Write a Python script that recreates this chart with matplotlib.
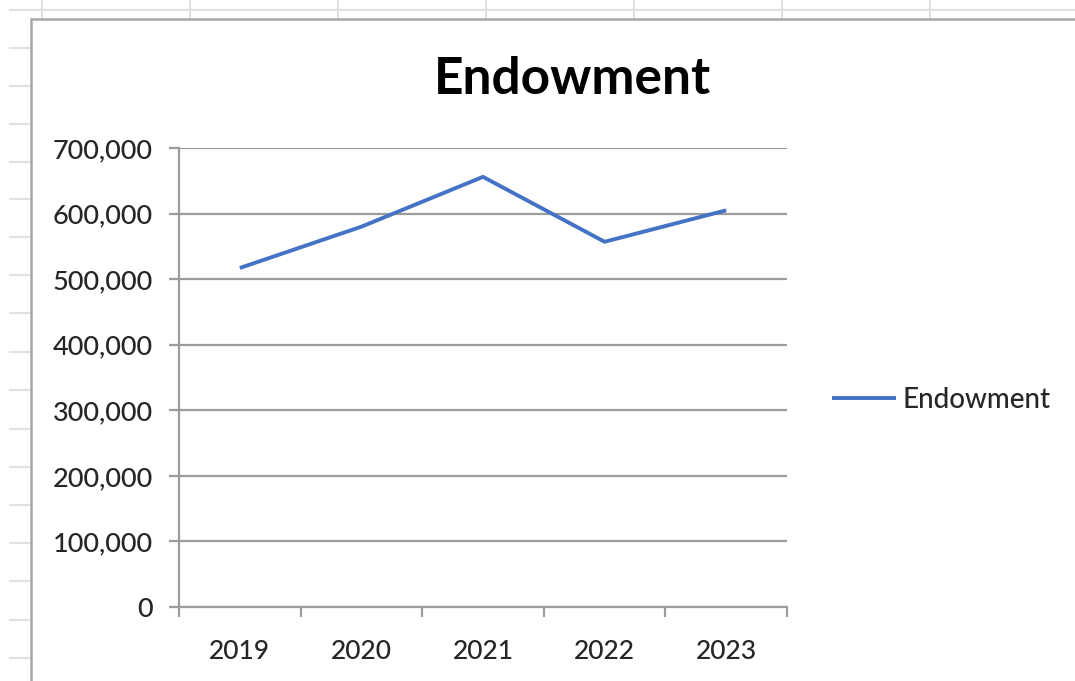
import matplotlib.pyplot as plt
from matplotlib.lines import Line2D
from matplotlib.patches import Rectangle
from matplotlib.ticker import FuncFormatter, FixedLocator

# datos del grafico
years = ['2019', '2020', '2021', '2022', '2023']
endowment = [517000, 580000, 656000, 557000, 605000]
y_ticks = [0, 100000, 200000, 300000, 400000, 500000, 600000, 700000]

W, H = 1075, 681
fig = plt.figure(figsize=(W / 100, H / 100), dpi=100)
fig.patch.set_facecolor('white')

# cuadricula de la hoja de calculo (fondo)
grid_c = '#e1e1e1'
fig.add_artist(Line2D([10 / W, 1], [1 - 10 / H, 1 - 10 / H], color=grid_c, lw=1.5, zorder=-3))
for gx in [42, 190, 338, 486, 634, 782, 930]:
    fig.add_artist(Line2D([gx / W, gx / W], [1, 1 - 19 / H], color=grid_c, lw=1.5, zorder=-3))
for gy in [48, 86, 124, 162, 199, 237, 275, 313, 352, 390, 429, 467, 505, 543, 581, 620, 658]:
    fig.add_artist(Line2D([10 / W, 31 / W], [1 - gy / H, 1 - gy / H], color=grid_c, lw=1.5, zorder=-3))

# area del grafico
fig.add_artist(Rectangle((31 / W, -19 / H), 1200 / W, 1.0, facecolor='white',
                         edgecolor='#a6a6a6', lw=1.8, zorder=-2))

ax = fig.add_axes([179 / W, (H - 607) / H, (787 - 179) / W, (607 - 148) / H])
ax.patch.set_alpha(0)
x = [i + 0.5 for i in range(len(years))]
ax.plot(x, endowment, color='#4472C4', lw=2.8, label='Endowment', solid_capstyle='butt')

ax.set_xlim(0, len(years))
ax.set_ylim(0, 700000)
ax.set_yticks(y_ticks)
ax.yaxis.set_major_formatter(FuncFormatter(lambda v, p: f'{int(v):,}'))
ax.grid(axis='y', color='#9c9c9c', lw=1.6)
ax.set_axisbelow(True)

ax.xaxis.set_major_locator(FixedLocator(range(len(years) + 1)))
ax.xaxis.set_minor_locator(FixedLocator(x))
ax.set_xticklabels([], minor=False)
ax.set_xticklabels(years, minor=True)
ax.tick_params(axis='x', which='major', length=7, width=1.6, color='#9c9c9c', direction='out')
ax.tick_params(axis='x', which='minor', length=0, pad=23)
ax.tick_params(axis='y', length=7, width=1.6, color='#9c9c9c', pad=12)

for lab in ax.get_yticklabels():
    lab.set_fontsize(19.5)
for lab in ax.get_xticklabels(minor=True):
    lab.set_fontsize(19)
for lab in ax.get_xticklabels(minor=True) + ax.get_yticklabels():
    lab.set_fontfamily('Lato')
    lab.set_fontweight('medium')
    lab.set_color('#262626')

for s in ['top', 'right']:
    ax.spines[s].set_visible(False)
for s in ['left', 'bottom']:
    ax.spines[s].set_color('#9c9c9c')
    ax.spines[s].set_linewidth(1.6)

fig.text(572 / W, 1 - 80 / H, 'Endowment', ha='center', va='center',
         fontsize=37, fontweight='bold', fontfamily='Lato', color='black')

leg = fig.legend(loc='center left', bbox_to_anchor=(807 / W, 1 - 400 / H), frameon=False,
                 prop={'family': 'Lato', 'size': 20, 'weight': 'medium'},
                 handlelength=2.3, handletextpad=0.25)
for t in leg.get_texts():
    t.set_color('#262626')

fig.savefig('out.png', dpi=100)
